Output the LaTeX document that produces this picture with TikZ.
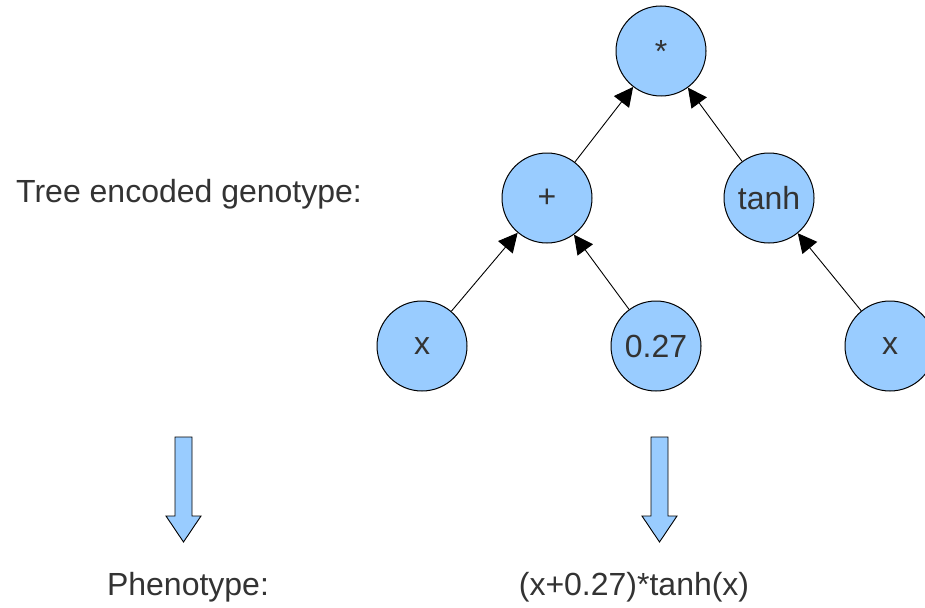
\documentclass[tikz,border=0pt]{standalone}
\usepackage{fontspec}
\setmainfont{Liberation Sans}
\usetikzlibrary{arrows.meta}
\definecolor{nodeblue}{HTML}{99CCFF}
\definecolor{txt}{HTML}{333333}
\begin{document}
\begin{tikzpicture}[x=1pt,y=-1pt,
  treenode/.style={circle,draw=black,line width=1pt,fill=nodeblue,minimum size=90pt,inner sep=0pt,text=txt,font=\fontsize{32}{38}\selectfont},
  lbl/.style={text=txt,font=\fontsize{32}{38}\selectfont,inner sep=0pt},
  edge/.style={draw=black,line width=0.9pt,-{Triangle[length=19pt,width=19pt]}},
  blockarrow/.style={draw=black,line width=0.9pt,fill=nodeblue,line join=miter}]
\useasboundingbox[fill=white] (0,0) rectangle (925,607);
\node[treenode] (mul) at (661,51) {*};
\node[treenode] (plus) at (547,198) {+};
\node[treenode] (tanh) at (769,198) {tanh};
\node[treenode] (x1) at (422,346) {x};
\node[treenode] (c) at (656,346) {0.27};
\node[treenode] (x2) at (890,346) {x};
\draw[edge] (plus) -- (mul);
\draw[edge] (tanh) -- (mul);
\draw[edge] (x1) -- (plus);
\draw[edge] (c) -- (plus);
\draw[edge] (x2) -- (tanh);
\node[lbl,anchor=west] (geno) at (16,194) {Tree encoded genotype:};
\node[lbl] (pheno) at (188,587) {Phenotype:};
\node[lbl] (expr) at (634,587) {(x+0.27)*tanh(x)};
\draw[blockarrow] (175,437) -- (192,437) -- (192,516) -- (201,516) -- (183.5,542) -- (166,516) -- (175,516) -- cycle;
\draw[blockarrow] (651,437) -- (668,437) -- (668,516) -- (677,516) -- (659.5,542) -- (642,516) -- (651,516) -- cycle;
\end{tikzpicture}
\end{document}
